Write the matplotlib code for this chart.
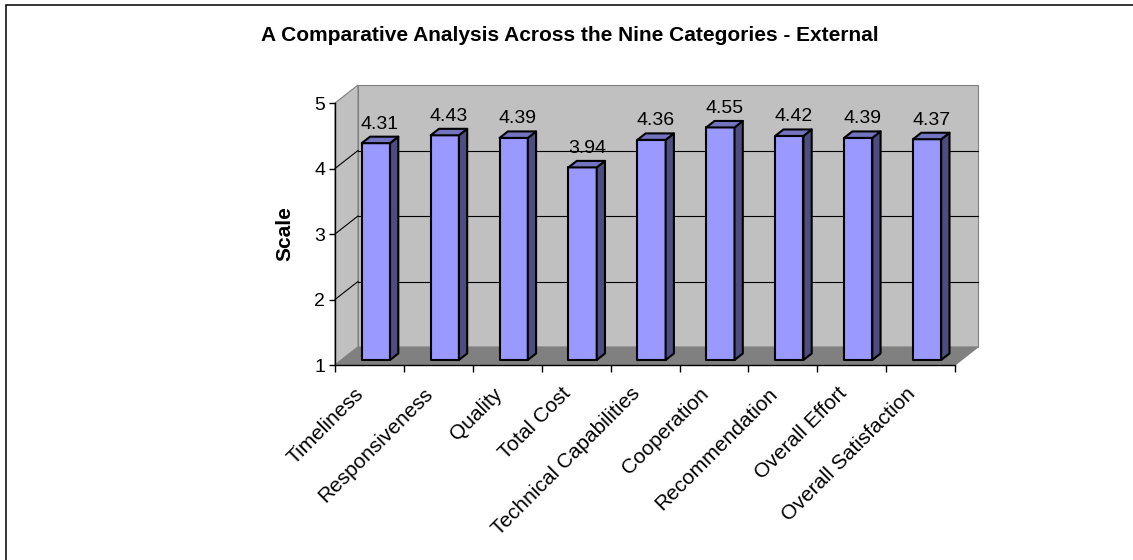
import matplotlib
matplotlib.use("Agg")
import matplotlib.pyplot as plt
from matplotlib.patches import Polygon, Rectangle
from matplotlib.transforms import ScaledTranslation

plt.rcParams['font.family'] = ['Liberation Sans', 'DejaVu Sans']

categories = ["Timeliness", "Responsiveness", "Quality", "Total Cost",
              "Technical Capabilities", "Cooperation", "Recommendation",
              "Overall Effort", "Overall Satisfaction"]
scores = [4.31, 4.43, 4.39, 3.94, 4.36, 4.55, 4.42, 4.39, 4.37]
y_ticks = [1, 2, 3, 4, 5]

title = "A Comparative Analysis Across the Nine Categories - External"

# figure size in pixels and the front plane of the 3-D box
W_PX, H_PX = 1133, 560
X0_PX, CAT_PX = 335, 68.9        # left of front plane, width per category
Y1_PX, UNIT_PX = 365, 65.5       # pixel row of value 1, pixels per unit
DX, DY = 23 / CAT_PX, 18 / UNIT_PX   # depth of the box in data units
F0, F1 = 0.28, 0.64              # bar front/back as fraction of depth
BAR_W = 0.41

FRONT, SIDE, TOP = "#9999FF", "#4D4D80", "#7373BF"
WALL, FLOOR = "#C0C0C0", "#808080"

n = len(categories)
xlim = (-0.2, n + 0.6)
ylim = (0.8, y_ticks[-1] + 0.4)

fig = plt.figure(figsize=(W_PX / 100, H_PX / 100), dpi=100)
left = (X0_PX + xlim[0] * CAT_PX) / W_PX
right = (X0_PX + xlim[1] * CAT_PX) / W_PX
top = 1 - (Y1_PX - (ylim[1] - 1) * UNIT_PX) / H_PX
bottom = 1 - (Y1_PX - (ylim[0] - 1) * UNIT_PX) / H_PX
ax = fig.add_axes([left, bottom, right - left, top - bottom])
ax.set_xlim(*xlim)
ax.set_ylim(*ylim)
ax.patch.set_visible(False)

ymin, ymax = y_ticks[0], y_ticks[-1]

# walls and floor
ax.add_patch(Polygon([(DX, ymin + DY), (n + DX, ymin + DY), (n + DX, ymax + DY), (DX, ymax + DY)],
                     closed=True, facecolor=WALL, edgecolor="#808080", lw=0.8, zorder=1))
ax.add_patch(Polygon([(0, ymin), (DX, ymin + DY), (DX, ymax + DY), (0, ymax)],
                     closed=True, facecolor=WALL, edgecolor="#808080", lw=0.8, zorder=1))
ax.add_patch(Polygon([(0, ymin), (n, ymin), (n + DX, ymin + DY), (DX, ymin + DY)],
                     closed=True, facecolor=FLOOR, edgecolor="#808080", lw=0.8, zorder=1))

# gridlines on back and side walls
for v in y_ticks[1:-1]:
    ax.plot([DX, n + DX], [v + DY, v + DY], color="black", lw=0.8, zorder=2)
    ax.plot([0, DX], [v, v + DY], color="black", lw=0.8, zorder=2)

# bars
dd_x, dd_y = DX * (F1 - F0), DY * (F1 - F0)
for i, v in enumerate(scores):
    x0 = i + 0.5 - BAR_W / 2 + DX * F0
    x1 = x0 + BAR_W
    yb = ymin + DY * F0
    yt = v + DY * F0
    faces = [
        ([(x0, yb), (x1, yb), (x1, yt), (x0, yt)], FRONT),
        ([(x1, yb), (x1 + dd_x, yb + dd_y), (x1 + dd_x, yt + dd_y), (x1, yt)], SIDE),
        ([(x0, yt), (x1, yt), (x1 + dd_x, yt + dd_y), (x0 + dd_x, yt + dd_y)], TOP),
    ]
    for pts, c in faces:
        ax.add_patch(Polygon(pts, closed=True, facecolor=c, edgecolor="black",
                             lw=1.5, joinstyle="round", zorder=3))
    ax.annotate(f"{v:.2f}", (i + 0.5 + DX * (F0 + F1) / 2, v + DY * F1),
                xytext=(0, 3), textcoords="offset points",
                ha="center", va="bottom", fontsize=14, zorder=4)

# front axes
for s in ["top", "right"]:
    ax.spines[s].set_visible(False)
ax.spines["left"].set_position(("data", 0))
ax.spines["left"].set_bounds(ymin, ymax)
ax.spines["bottom"].set_position(("data", ymin))
ax.spines["bottom"].set_bounds(0, n)
for s in ["left", "bottom"]:
    ax.spines[s].set_linewidth(1.0)
    ax.spines[s].set_zorder(5)
ax.set_yticks(y_ticks)
ax.set_yticklabels([str(t) for t in y_ticks])
ax.set_xticks(range(n + 1))
ax.set_xticklabels([])
ax.tick_params(axis="y", direction="out", length=4, width=1.0, pad=3, labelsize=14)
ax.tick_params(axis="x", direction="out", length=5, width=1.0)

# rotated category labels
for i, name in enumerate(categories):
    tr = ax.transData + ScaledTranslation(-15 / 100, -19 / 100, fig.dpi_scale_trans)
    ax.text(i + 0.5, ymin, name, transform=tr, rotation=45, rotation_mode="anchor",
            ha="right", va="top", fontsize=15)

fig.text(285 / W_PX, 1 - 234 / H_PX, "Scale", rotation=90, ha="center", va="center",
         fontsize=15, fontweight="bold")
fig.text(570 / W_PX, 1 - 41 / H_PX, title, ha="center", va="baseline",
         fontsize=15, fontweight="bold")

# chart border
fig.add_artist(Rectangle((6 / W_PX, -0.1), 1.2, 1.1 - 5 / H_PX, transform=fig.transFigure,
                         fill=False, edgecolor="black", lw=1.1))

fig.savefig("out.png", dpi=100)
